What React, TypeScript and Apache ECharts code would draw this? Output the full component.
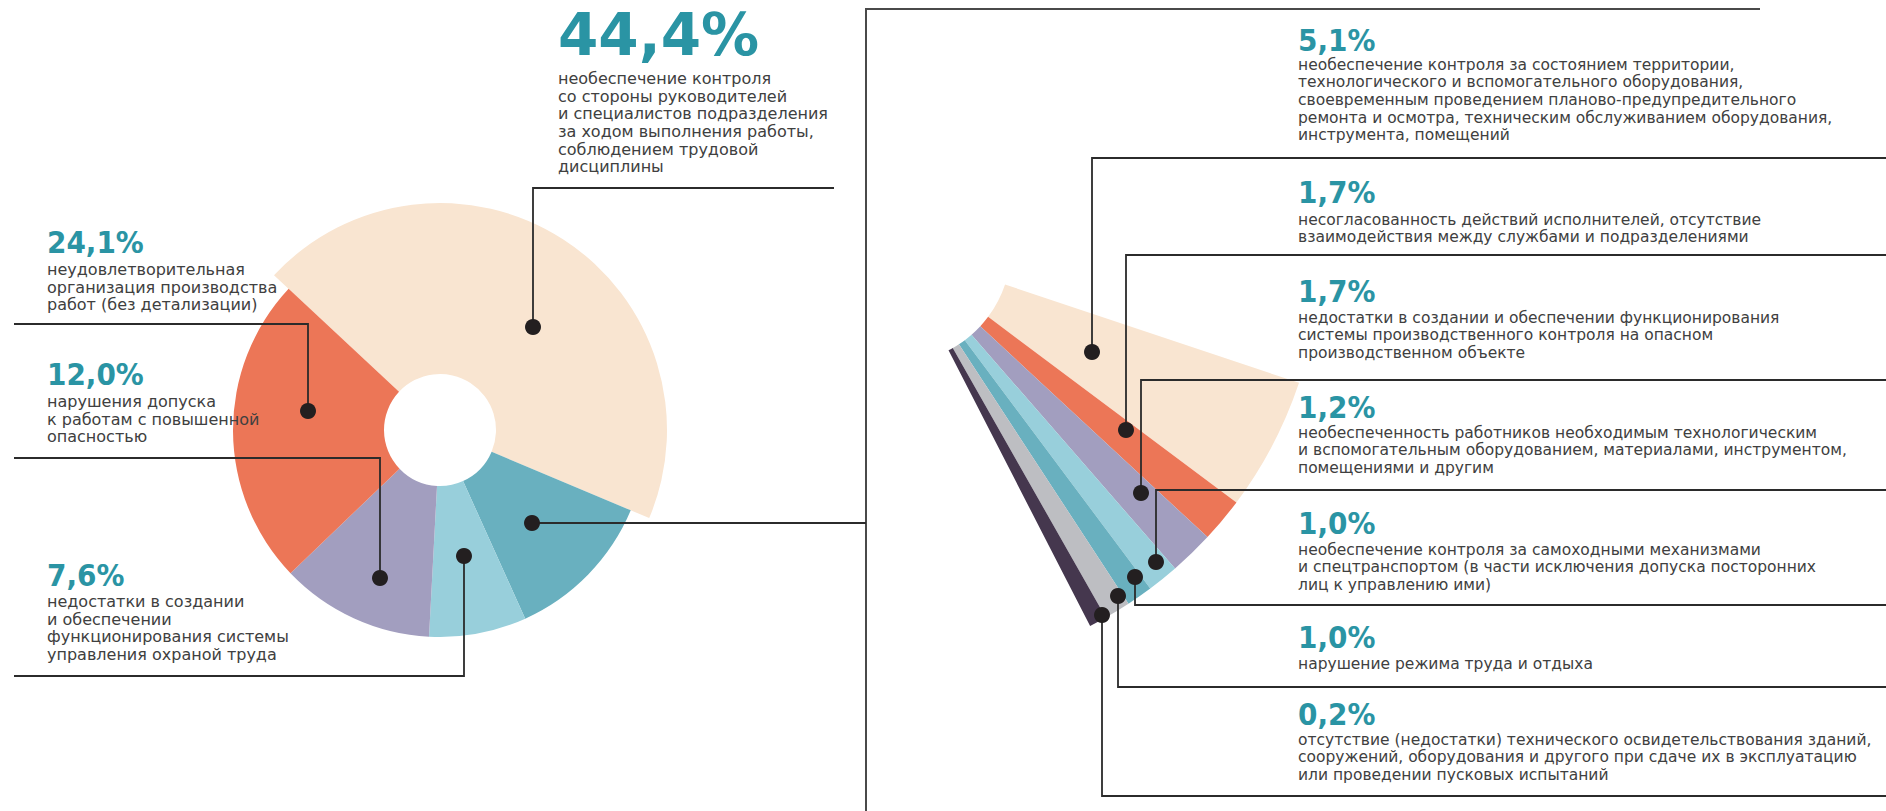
import React, { useEffect, useRef } from "react";
import * as echarts from "echarts";

// ---- data ----
const mainCategories = [
  "необеспечение контроля со стороны руководителей",
  "прочие причины",
  "недостатки в создании СУОТ",
  "нарушения допуска",
  "неудовлетворительная организация производства работ",
];
const mainValues = [44.4, 11.9, 7.6, 12.0, 24.1];
const mainColors = ["#f9e5d1", "#69b0bf", "#98cfdb", "#a29ebf", "#ec7657"];

const detailValues = [5.1, 1.7, 1.7, 1.2, 1.0, 1.0, 0.2];
const detailColors = ["#f9e5d1", "#ec7657", "#a29ebf", "#98cfdb", "#69b0bf", "#bdbec2", "#45374e"];

// label blocks: value + text lines
const leftValues = [44.4, 24.1, 12.0, 7.6];
const leftTexts = [
  [
    "необеспечение контроля",
    "со стороны руководителей",
    "и специалистов подразделения",
    "за ходом выполнения работы,",
    "соблюдением трудовой",
    "дисциплины",
  ],
  ["неудовлетворительная", "организация производства", "работ (без детализации)"],
  ["нарушения допуска", "к работам с повышенной", "опасностью"],
  ["недостатки в создании", "и обеспечении", "функционирования системы", "управления охраной труда"],
];
const rightTexts = [
  [
    "необеспечение контроля за состоянием территории,",
    "технологического и вспомогательного оборудования,",
    "своевременным проведением планово-предупредительного",
    "ремонта и осмотра, техническим обслуживанием оборудования,",
    "инструмента, помещений",
  ],
  ["несогласованность действий исполнителей, отсутствие", "взаимодействия между службами и подразделениями"],
  [
    "недостатки в создании и обеспечении функционирования",
    "системы производственного контроля на опасном",
    "производственном объекте",
  ],
  [
    "необеспеченность работников необходимым технологическим",
    "и вспомогательным оборудованием, материалами, инструментом,",
    "помещениями и другим",
  ],
  [
    "необеспечение контроля за самоходными механизмами",
    "и спецтранспортом (в части исключения допуска посторонних",
    "лиц к управлению ими)",
  ],
  ["нарушение режима труда и отдыха"],
  [
    "отсутствие (недостатки) технического освидетельствования зданий,",
    "сооружений, оборудования и другого при сдаче их в эксплуатацию",
    "или проведении пусковых испытаний",
  ],
];

// ---- layout (pixels) ----
const LEFT_BLOCKS = [
  { x: 558, num: 55, body: 84, big: true },
  { x: 47, num: 253, body: 275 },
  { x: 47, num: 385, body: 407 },
  { x: 47, num: 586, body: 607 },
];
const RIGHT_BLOCKS = [
  { x: 1298, num: 51, body: 70 },
  { x: 1298, num: 203, body: 225 },
  { x: 1298, num: 302, body: 323 },
  { x: 1298, num: 418, body: 438 },
  { x: 1298, num: 534, body: 555 },
  { x: 1298, num: 648, body: 669 },
  { x: 1298, num: 725, body: 745 },
];
const LEADERS: number[][][] = [
  [[834, 188], [533, 188], [533, 327]],
  [[14, 324], [308, 324], [308, 411]],
  [[14, 458], [380, 458], [380, 578]],
  [[14, 676], [464, 676], [464, 556]],
  [[866, 523], [532, 523]],
  [[1886, 158], [1092, 158], [1092, 352]],
  [[1886, 255], [1126, 255], [1126, 430]],
  [[1886, 380], [1141, 380], [1141, 493]],
  [[1886, 490], [1156, 490], [1156, 562]],
  [[1886, 605], [1135, 605], [1135, 577]],
  [[1886, 687], [1118, 687], [1118, 596]],
  [[1886, 796], [1102, 796], [1102, 615]],
];
const FRAME = [[1760, 9], [866, 9], [866, 811]];

const NUM_COLOR = "#2a94a4";
const BODY_COLOR = "#404040";
const LINE_COLOR = "#2b2b2b";
const FONT = "'DejaVu Sans', sans-serif";
const NUM_FONT_SMALL = "'DejaVu Sans Condensed', 'DejaVu Sans', sans-serif";
const LEFT_BODY_SIZE = 16;
const RIGHT_BODY_SIZE = 15.5;
const LINE_H = 17.7;

const fmt = (v: number) => v.toFixed(1).replace(".", ",") + "%";

function textEl(
  x: number,
  baseline: number,
  text: string,
  size: number,
  lh: number,
  bold: boolean,
  color: string,
  family: string = FONT
) {
  const top = baseline - 0.346 * size - lh / 2;
  return {
    type: "text",
    x,
    y: top,
    z: 100,
    silent: true,
    style: {
      text,
      fontFamily: family,
      fontSize: size,
      fontWeight: bold ? "bold" : "normal",
      lineHeight: lh,
      fill: color,
      align: "left",
      verticalAlign: "top",
    },
  };
}

export default function App() {
  const ref = useRef<HTMLDivElement>(null);
  useEffect(() => {
    if (!ref.current) return;
    const chart = echarts.init(ref.current, undefined, { renderer: "svg" });

    const graphics: any[] = [];
    graphics.push({
      type: "polyline",
      z: 99,
      silent: true,
      shape: { points: FRAME },
      style: { stroke: "#4a4a4a", lineWidth: 2, fill: null },
    });
    LEADERS.forEach((pts) => {
      graphics.push({
        type: "polyline",
        z: 100,
        silent: true,
        shape: { points: pts },
        style: { stroke: LINE_COLOR, lineWidth: 1.8, fill: null },
      });
      const dot = pts[pts.length - 1];
      graphics.push({
        type: "circle",
        z: 101,
        silent: true,
        shape: { cx: dot[0], cy: dot[1], r: 8 },
        style: { fill: "#231f20" },
      });
    });
    LEFT_BLOCKS.forEach((b, i) => {
      const size = b.big ? 58 : 31;
      graphics.push(
        textEl(b.x, b.num, fmt(leftValues[i]), size, size, true, NUM_COLOR, b.big ? FONT : NUM_FONT_SMALL)
      );
      graphics.push(textEl(b.x, b.body, leftTexts[i].join("\n"), LEFT_BODY_SIZE, LINE_H, false, BODY_COLOR));
    });
    RIGHT_BLOCKS.forEach((b, i) => {
      graphics.push(textEl(b.x, b.num, fmt(detailValues[i]), 31, 31, true, NUM_COLOR, NUM_FONT_SMALL));
      graphics.push(textEl(b.x, b.body, rightTexts[i].join("\n"), RIGHT_BODY_SIZE, LINE_H, false, BODY_COLOR));
    });

    const detailSum = detailValues.reduce((a, b) => a + b, 0);

    const baseSeries = {
      type: "pie",
      silent: true,
      label: { show: false },
      labelLine: { show: false },
      avoidLabelOverlap: false,
      clockwise: true,
      emphasis: { disabled: true },
    };

    chart.setOption({
      animation: false,
      backgroundColor: "#ffffff",
      series: [
        {
          ...baseSeries,
          center: [440, 430],
          radius: [56, 227],
          startAngle: 137,
          data: mainCategories.map((c, i) => ({
            name: c,
            value: mainValues[i],
            itemStyle: { color: i === 0 ? mainColors[i] : "rgba(0,0,0,0)", borderWidth: 0 },
          })),
        },
        {
          ...baseSeries,
          center: [440, 430],
          radius: [56, 207],
          startAngle: 137,
          data: mainCategories.map((c, i) => ({
            name: c,
            value: mainValues[i],
            itemStyle: { color: i === 0 ? "rgba(0,0,0,0)" : mainColors[i], borderWidth: 0 },
          })),
        },
        {
          ...baseSeries,
          center: [896, 248],
          radius: [115, 425],
          startAngle: 341.5,
          minAngle: 2.4,
          data: [
            ...detailValues.map((v, i) => ({
              name: "d" + i,
              value: v,
              itemStyle: { color: detailColors[i], borderWidth: 0 },
            })),
            {
              name: "rest",
              value: +(100 - detailSum).toFixed(1),
              itemStyle: { color: "rgba(0,0,0,0)", borderWidth: 0 },
            },
          ],
        },
      ],
      graphic: { elements: graphics },
    });
    return () => chart.dispose();
  }, []);
  return (
    <div
      ref={ref}
      style={{ position: "fixed", left: 0, top: 0, width: 1886, height: 811, background: "#fff" }}
    />
  );
}
